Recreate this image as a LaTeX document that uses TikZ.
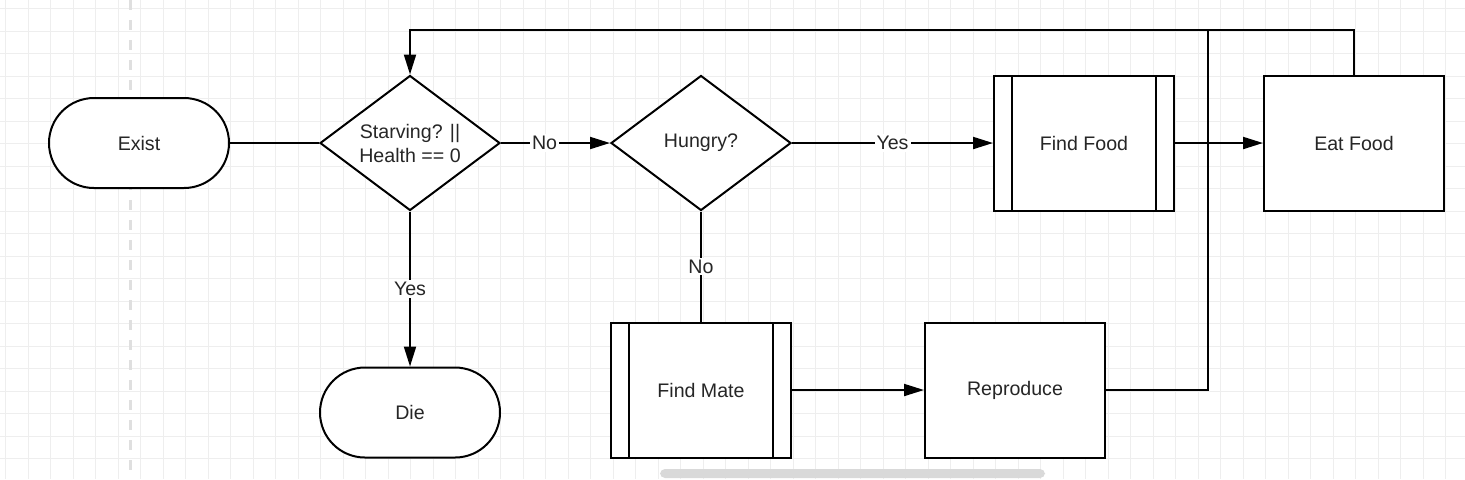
\documentclass[tikz,border=0pt]{standalone}
\usepackage{fontspec}
\setmainfont{Liberation Sans}
\usetikzlibrary{arrows.meta, positioning, shapes.geometric}

\begin{document}
\begin{tikzpicture}[x=0.5pt, y=-0.5pt, font=\fontsize{9.8}{12}\selectfont]
            \tikzset{
                grid_line/.style={draw=gray!13, line width=0.5pt},
                page_edge/.style={draw=gray!25, line width=1.5pt, dash pattern=on 5pt off 5pt},
                term_node/.style={draw, shape = rectangle, rounded corners=22.5pt, line width=1pt, fill=white, text=black!85, minimum width=90pt, minimum height=45pt},
                decision_node/.style={draw, shape = diamond, aspect=1.333, inner sep=0pt, line width=1pt, fill=white, text=black!85, align=center, minimum width=90pt, minimum height=67.5pt},
                process_node/.style={draw, shape = rectangle, line width=1pt, fill=white, text=black!85, minimum width=90pt, minimum height=67.5pt},
                subproc_node/.style={process_node, path picture={
                    \draw[line width=1pt] ([xshift=9pt]path picture bounding box.north west) -- ([xshift=9pt]path picture bounding box.south west)
                        ([xshift=-9pt]path picture bounding box.north east) -- ([xshift=-9pt]path picture bounding box.south east);}},
                link/.style={draw, line width=1pt},
                flow/.style={link, -{Triangle[length=10pt, width=6pt]}},
                cond_label/.style={fill=white, text=black!85, inner sep=1pt}
            }
            \useasboundingbox (0,0) rectangle (1465,479);
            \fill[white] (0,0) rectangle (1465,479);
            % background grid
            \foreach \gx in {5.5,28,...,1465} \draw[grid_line] (\gx,0) -- (\gx,479);
            \foreach \gy in {8.5,31,...,479} \draw[grid_line] (0,\gy) -- (1465,\gy);
            \draw[page_edge] (130,0) -- (130,479);
            \fill[gray!30, rounded corners=2.5pt] (660,469) rectangle (1045,478);

            \node[term_node] (exist) at (139,143) {Exist};
            \node[decision_node, right=44.5pt of exist] (starve) {Starving? ||\\Health == 0};
            \node[decision_node, right=54.5pt of starve] (hungry) {Hungry?};
            \node[subproc_node, right=100.5pt of hungry] (findfood) {Find Food};
            \node[process_node, right=44pt of findfood] (eatfood) {Eat Food};
            \node[term_node, below=77.5pt of starve] (die) {Die};
            \node[subproc_node, below=55pt of hungry] (findmate) {Find Mate};
            \node[process_node, right=66pt of findmate] (reproduce) {Reproduce};
            \coordinate (join) at (1208,30);

            \path (exist) edge [link] (starve);
            \path (starve) edge [flow] node[cond_label, pos=0.4] {No} (hungry);
            \path (starve) edge [flow] node[cond_label] {Yes} (die);
            \path (hungry) edge [flow] node[cond_label] {Yes} (findfood);
            \path (hungry) edge [link] node[cond_label] {No} (findmate);
            \path (findfood) edge [flow] (eatfood);
            \path (findmate) edge [flow] (reproduce);
            \draw[flow] (eatfood.north) |- (join) -| (starve.north);
            \draw[link] (reproduce.east) -| (join);
        \end{tikzpicture}
\end{document}
